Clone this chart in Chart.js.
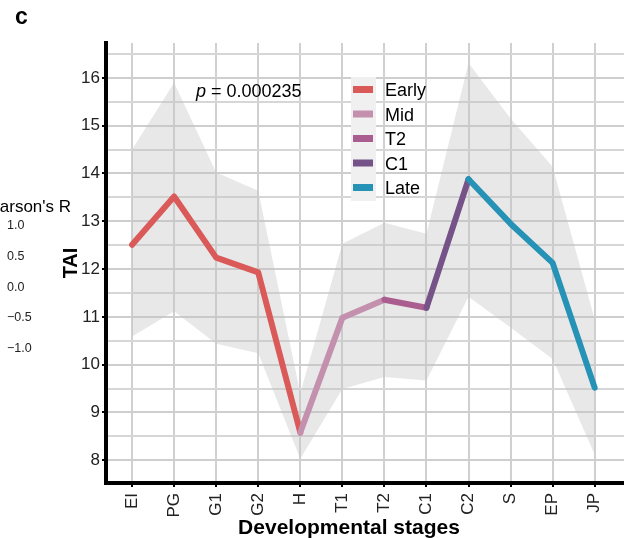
<!DOCTYPE html>
<html>
<head>
<meta charset="utf-8">
<script src="https://cdn.jsdelivr.net/npm/chart.js@4"></script>
<style>
  html, body { margin: 0; padding: 0; background: #fff; overflow: hidden; }
  #wrap { position: relative; width: 630px; height: 538px; }
</style>
</head>
<body>
<div id="wrap"><canvas id="chartTAI" width="630" height="538"></canvas></div>
<script>
// TAI a lo largo de las etapas de desarrollo, con banda gris de intervalo
const stages = ["EI", "PG", "G1", "G2", "H", "T1", "T2", "C1", "C2", "S", "EP", "JP"];
const tai = [12.51, 13.52, 12.24, 11.93, 8.58, 10.98, 11.36, 11.19, 13.88, 12.95, 12.13, 9.52];
const taiUpper = [14.5, 15.9, 14.02, 13.64, 9.4, 12.53, 12.97, 12.74, 16.31, 15.15, 14.14, 10.95];
const taiLower = [10.59, 11.12, 10.44, 10.24, 8.03, 9.49, 9.74, 9.67, 11.42, 10.78, 10.12, 8.12];

const groups = ["Early", "Mid", "T2", "C1", "Late"];
const groupFrom = [0, 4, 6, 7, 8];
const groupTo = [4, 6, 7, 8, 11];
const groupColors = ["#da5a5a", "#c390ae", "#aa5d8f", "#755287", "#2592b6"];

const yTicks = [8, 8.5, 9, 9.5, 10, 10.5, 11, 11.5, 12, 12.5, 13, 13.5, 14, 14.5, 15, 15.5, 16, 16.5];
const pearsonTicks = ["1.0", "0.5", "0.0", "\u22120.5", "\u22121.0"];
const pText = "0.000235";

const pts = (arr, a, b) => arr.slice(a, b + 1).map((v, k) => ({ x: a + k, y: v }));

const datasets = [
  {
    label: "upper", data: pts(taiUpper, 0, 11), borderWidth: 0, pointRadius: 0,
    fill: "+1", backgroundColor: "rgba(195,195,195,0.38)", order: 10
  },
  { label: "lower", data: pts(taiLower, 0, 11), borderWidth: 0, pointRadius: 0, fill: false, order: 11 }
];
groups.forEach((g, i) => {
  datasets.push({
    label: g,
    data: pts(tai, groupFrom[i], groupTo[i]),
    borderColor: groupColors[i],
    borderWidth: 6,
    borderCapStyle: "round",
    borderJoinStyle: "round",
    pointRadius: 0,
    fill: false,
    order: 5 - i
  });
});

const extras = {
  id: "extras",
  afterDraw(chart) {
    const c = chart.ctx;
    c.save();
    c.fillStyle = "#000";
    c.textBaseline = "alphabetic";
    c.textAlign = "left";
    // panel letter
    c.font = "bold 23px 'Liberation Sans', Arial, sans-serif";
    c.fillText("c", 15, 24);
    // p value
    c.font = "italic 18px 'Liberation Sans', Arial, sans-serif";
    c.fillText("p", 196, 97);
    const pw = c.measureText("p").width;
    c.font = "18px 'Liberation Sans', Arial, sans-serif";
    c.fillText(" = " + pText, 196 + pw, 97);
    // legend
    c.fillStyle = "#f0f0f0";
    c.fillRect(351, 77, 25, 124);
    groups.forEach((g, i) => {
      const cy = 89.5 + i * 24.5;
      c.fillStyle = groupColors[i];
      c.fillRect(353, cy - 3.5, 20, 7);
      c.fillStyle = "#000";
      c.font = "18px 'Liberation Sans', Arial, sans-serif";
      c.fillText(g, 385, cy + 6.5);
    });
    // x title
    c.font = "bold 21px 'Liberation Sans', Arial, sans-serif";
    c.textAlign = "center";
    c.fillText("Developmental stages", 349, 534);
    // trozo de la leyenda de Pearson del panel vecino
    c.textAlign = "left";
    c.font = "17px 'Liberation Sans', Arial, sans-serif";
    c.fillText("Pearson's R", -21, 212);
    c.font = "12.5px 'Liberation Sans', Arial, sans-serif";
    c.fillStyle = "#222";
    pearsonTicks.forEach((t, i) => c.fillText(t, 7, 229 + i * 30.8));
    c.restore();
  }
};

new Chart(document.getElementById("chartTAI"), {
  type: "line",
  data: { datasets },
  options: {
    responsive: false,
    animation: false,
    devicePixelRatio: 1,
    layout: { padding: { top: 43, left: 0, right: 0, bottom: 0 } },
    plugins: { legend: { display: false }, tooltip: { enabled: false } },
    scales: {
      x: {
        type: "linear",
        min: -0.62,
        max: 11.84,
        afterBuildTicks: s => { s.ticks = stages.map((_, i) => ({ value: i })); },
        afterFit: s => { s.height = 55; },
        ticks: {
          callback: v => stages[v],
          autoSkip: false,
          minRotation: 90,
          maxRotation: 90,
          padding: 6,
          color: "#222",
          font: { family: "'Liberation Sans', Arial, sans-serif", size: 17 }
        },
        grid: { color: "#d0d0d0", lineWidth: 2, tickLength: 4, tickColor: "#000", tickWidth: 2 },
        border: { color: "#000", width: 4 }
      },
      y: {
        min: 7.525,
        max: 16.73,
        afterBuildTicks: s => { s.ticks = yTicks.map(v => ({ value: v })); },
        afterFit: s => { s.width = 106; },
        ticks: {
          callback: v => Number.isInteger(v) ? String(v) : "",
          padding: 2,
          color: "#222",
          font: { family: "'Liberation Sans', Arial, sans-serif", size: 17 }
        },
        grid: {
          color: c => Number.isInteger(c.tick.value) ? "#cecece" : "#d6d6d6",
          lineWidth: 2,
          tickLength: 4,
          tickWidth: 2,
          tickColor: c => Number.isInteger(c.tick.value) ? "#000" : "rgba(0,0,0,0)"
        },
        border: { color: "#000", width: 4 },
        title: {
          display: true,
          text: "TAI",
          color: "#000",
          padding: { top: 59, bottom: 0 },
          font: { family: "'Liberation Sans', Arial, sans-serif", size: 20, weight: "bold" }
        }
      }
    }
  },
  plugins: [extras]
});
</script>
</body>
</html>
